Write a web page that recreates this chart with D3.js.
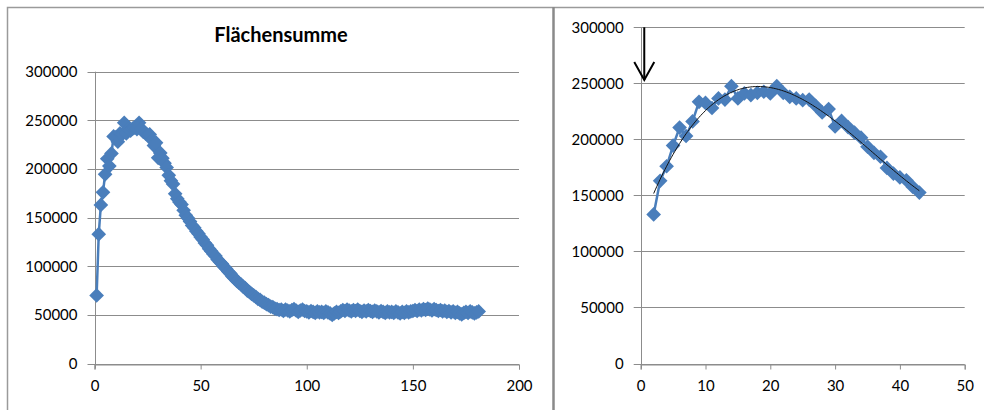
<!DOCTYPE html>
<html>
<head>
<meta charset="utf-8">
<script src="https://cdn.jsdelivr.net/npm/d3@7"></script>
<style>
  body { margin: 0; background: #fff; }
  svg { display: block; font-family: Lato, "Liberation Sans", sans-serif; }
</style>
</head>
<body>
<div id="chart"></div>
<script>
// frame number (x) and summed area (y)
const frameIndex = d3.range(1, 182);
const flaechensumme = [
  70000, 133000, 163000, 176000, 194500, 210500, 203000, 216000, 233500, 232500,
  228000, 236500, 235500, 247500, 236500, 241000, 239500, 241500, 242500, 241000,
  247500, 241500, 238000, 236500, 235000, 235500, 230000, 224000, 227000, 211500,
  216500, 211000, 206000, 201500, 193500, 188000, 184500, 174500, 169500, 166000,
  163500, 157500, 152500,
  149500, 146000, 142000, 139500, 136000, 133500, 130000, 127500, 124000, 121500,
  118000, 115500, 112500, 110500, 107000, 104500, 102500, 99500, 97500, 94500,
  92500, 89500, 87500, 85000, 83000, 81500, 79000, 77500, 75000, 73500,
  71500, 70000, 68500, 66500, 65500, 63500, 62500, 61000, 60000, 58500,
  58000, 56500, 56000, 55000, 55500,
  54000, 55500, 54500, 53500, 55000, 56000, 54500, 53000, 54500, 55500,
  54000, 53500, 52500, 54000, 53000, 52000, 53500, 52500, 53000, 52000,
  53500, 52500, 51500, 50000, 51500, 53000, 52000, 53500, 55000, 54000,
  55500, 54500, 53500, 55000, 54000, 55500, 54000, 53000, 54500, 53500,
  55000, 54000, 53000, 54500, 53500, 52500, 54000, 53000, 52000, 53500,
  52500, 53000, 52000, 53500, 52500, 51500, 53000, 52000, 53500, 52500,
  53500, 54000, 55000, 54000, 55500, 54500, 56000, 55000, 56500, 55500,
  54500, 56000, 55000, 54000, 55000, 53500, 54500, 53000, 54000, 52500,
  53500, 52000, 53000, 51500, 50500, 52000, 53000, 52000, 53500, 52500,
  51500, 52500, 53500
];
const zoomFrom = 2, zoomTo = 43;
const yTicks = [0, 50000, 100000, 150000, 200000, 250000, 300000];
const leftXTicks = [0, 50, 100, 150, 200];
const rightXTicks = [0, 10, 20, 30, 40, 50];
const chartTitle = "Flächensumme";
const trendOrder = 3;
// arrow annotation on the right chart (data units)
const arrowX = 0.55, arrowTop = 300000, arrowTip = 253000;

const data = frameIndex.map((x, i) => ({ x: x, y: flaechensumme[i] }));
const zoomData = data.filter(d => d.x >= zoomFrom && d.x <= zoomTo);

const blue = "#4a7ebb", grid = "#8c8c8c";

let svg = d3.select("#chart")
  .append("svg")
  .attr("width", 984)
  .attr("height", 410);

// chart frames
svg.append("path")
  .attr("d", "M7.5,420V7.5H984")
  .attr("fill", "none")
  .attr("stroke", "#9a9a9a")
  .attr("stroke-width", 1.5);
svg.append("line")
  .attr("x1", 553.5).attr("x2", 553.5)
  .attr("y1", 7).attr("y2", 410)
  .attr("stroke", "#8a8a8a")
  .attr("stroke-width", 2.5);

function drawPanel(g, pts, x, y, xTicks) {
  let x0 = x.range()[0], x1 = x.range()[1];
  let y0 = y.range()[0], y1 = y.range()[1];

  g.append("g")
    .selectAll("line")
    .data(yTicks)
    .enter()
    .append("line")
    .attr("x1", x0 - 7)
    .attr("x2", x1)
    .attr("y1", d => Math.round(y(d)) + 0.5)
    .attr("y2", d => Math.round(y(d)) + 0.5)
    .attr("stroke", grid)
    .attr("stroke-width", 1);

  g.append("line")
    .attr("x1", Math.round(x0) + 0.5)
    .attr("x2", Math.round(x0) + 0.5)
    .attr("y1", y1)
    .attr("y2", y0 + 5)
    .attr("stroke", grid);

  let yAxis = g.append("g")
    .attr("transform", "translate(" + x0 + ",0)")
    .call(d3.axisLeft(y).tickValues(yTicks).tickSize(0).tickPadding(17).tickFormat(d3.format("d")));
  yAxis.select(".domain").remove();

  let xAxis = g.append("g")
    .attr("transform", "translate(0," + (Math.round(y0) + 0.5) + ")")
    .call(d3.axisBottom(x).tickValues(xTicks).tickSize(5).tickPadding(11));
  xAxis.select(".domain").attr("stroke", grid);
  xAxis.selectAll(".tick line").attr("stroke", grid);

  g.selectAll(".tick text")
    .attr("fill", "#000")
    .style("font-size", "15px")
    .style("font-family", "Lato, 'Liberation Sans', sans-serif");

  g.append("path")
    .datum(pts)
    .attr("fill", "none")
    .attr("stroke", blue)
    .attr("stroke-width", 2.5)
    .attr("stroke-linejoin", "round")
    .attr("d", d3.line()
      .x(d => x(d.x))
      .y(d => y(d.y)));

  g.append("g")
    .selectAll("path")
    .data(pts)
    .enter()
    .append("path")
    .attr("d", d3.symbol(d3.symbolSquare, 108))
    .attr("transform", d => "translate(" + x(d.x) + "," + y(d.y) + ") rotate(45)")
    .attr("fill", blue);
}

// left chart: all frames
let xL = d3.scaleLinear().domain([0, 200]).range([94.5, 519]);
let yL = d3.scaleLinear().domain([0, 300000]).range([363.5, 71.7]);
let left = svg.append("g");
drawPanel(left, data, xL, yL, leftXTicks);

left.append("text")
  .attr("x", 281)
  .attr("y", 42)
  .attr("text-anchor", "middle")
  .style("font-size", "20px")
  .style("font-weight", "bold")
  .text(chartTitle);

// right chart: frames 2..43 with polynomial trend
let xR = d3.scaleLinear().domain([0, 50]).range([640.7, 964.7]);
let yR = d3.scaleLinear().domain([0, 300000]).range([363.5, 27.3]);
let right = svg.append("g");
drawPanel(right, zoomData, xR, yR, rightXTicks);

// least squares polynomial fit (like a spreadsheet trendline)
function polyFit(pts, order) {
  let n = order + 1;
  let A = [], b = [];
  for (let i = 0; i < n; i++) {
    A.push(new Array(n).fill(0));
    b.push(0);
  }
  pts.forEach(p => {
    for (let i = 0; i < n; i++) {
      for (let j = 0; j < n; j++) A[i][j] += Math.pow(p.x, i + j);
      b[i] += p.y * Math.pow(p.x, i);
    }
  });
  for (let c = 0; c < n; c++) {
    let piv = c;
    for (let r = c + 1; r < n; r++) if (Math.abs(A[r][c]) > Math.abs(A[piv][c])) piv = r;
    [A[c], A[piv]] = [A[piv], A[c]];
    [b[c], b[piv]] = [b[piv], b[c]];
    for (let r = c + 1; r < n; r++) {
      let f = A[r][c] / A[c][c];
      for (let k = c; k < n; k++) A[r][k] -= f * A[c][k];
      b[r] -= f * b[c];
    }
  }
  let coef = new Array(n).fill(0);
  for (let r = n - 1; r >= 0; r--) {
    let s = b[r];
    for (let k = r + 1; k < n; k++) s -= A[r][k] * coef[k];
    coef[r] = s / A[r][r];
  }
  return xv => coef.reduce((acc, c, i) => acc + c * Math.pow(xv, i), 0);
}

let trend = polyFit(zoomData, trendOrder);
let trendPts = d3.range(zoomFrom, zoomTo + 0.001, 0.25).map(v => ({ x: v, y: trend(v) }));

right.append("path")
  .datum(trendPts)
  .attr("fill", "none")
  .attr("stroke", "#111")
  .attr("stroke-width", 1)
  .attr("d", d3.line()
    .x(d => xR(d.x))
    .y(d => yR(d.y)));

// arrow annotation
let ax = xR(arrowX), ay = yR(arrowTip);
right.append("line")
  .attr("x1", ax).attr("x2", ax)
  .attr("y1", yR(arrowTop)).attr("y2", ay)
  .attr("stroke", "#000")
  .attr("stroke-width", 2);
right.append("path")
  .attr("d", "M" + (ax - 10) + "," + (ay - 18) + "L" + ax + "," + ay + "L" + (ax + 10) + "," + (ay - 18))
  .attr("fill", "none")
  .attr("stroke", "#000")
  .attr("stroke-width", 2);
</script>
</body>
</html>
